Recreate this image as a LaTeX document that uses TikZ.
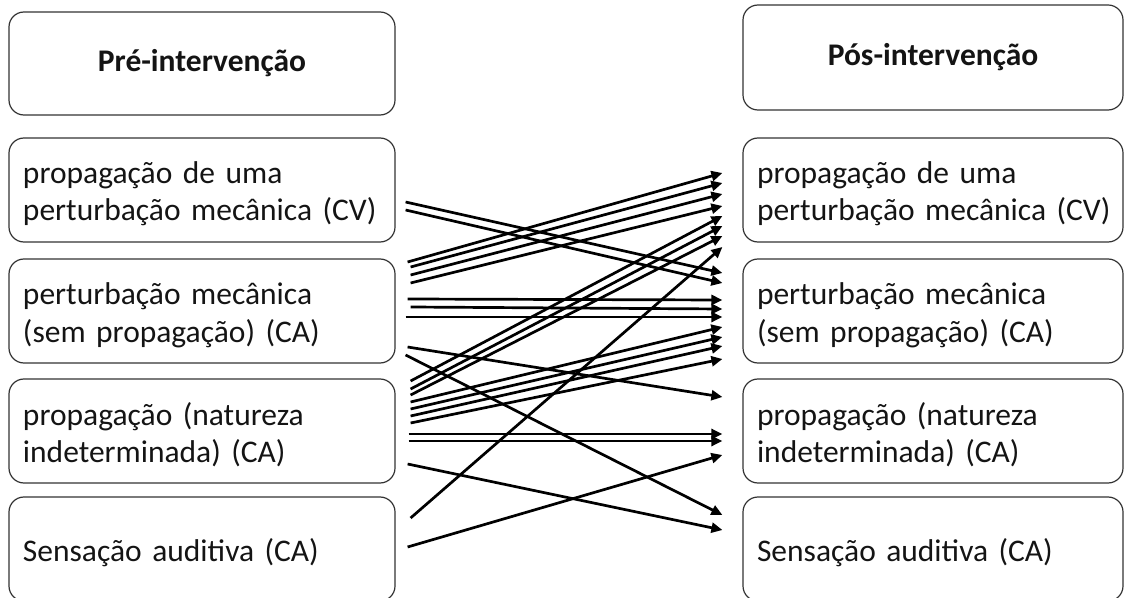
\documentclass[tikz,border=0pt]{standalone}
\usepackage{fontspec}
\setmainfont{Carlito}
\usetikzlibrary{arrows.meta,calc}
% struts that fix the height of the first line and the depth of the last one
\newcommand\topfix{\rule{0pt}{33bp}}
\newcommand\botfix{\rule[-8bp]{0pt}{8bp}}
\newcommand\headfix{\rule[-8bp]{0pt}{33bp}}
\begin{document}
\begin{tikzpicture}[x=1bp,y=-1bp,
  box/.style={draw=black!80, line width=1.2bp, rounded corners=15bp,
    inner xsep=14bp, inner ysep=0pt, text=black!92,
    font=\fontsize{31.5bp}{37bp}\selectfont},
  leftbox/.style={box, text width=358bp, align=left, minimum height=104bp},
  rightbox/.style={box, text width=352bp, align=left, minimum height=104bp},
  headbox/.style={box, align=center, font=\fontsize{31.5bp}{37bp}\selectfont\bfseries},
  conn/.style={line width=2.7bp, -{Triangle[length=11bp,width=10bp]}}
]
\useasboundingbox (0,0) rectangle (1125,598);

% column headings
\node[headbox, minimum width=386bp, minimum height=103bp] (L0) at (202,63.5) {\headfix Pré-intervenção};
\node[headbox, minimum width=380bp, minimum height=105bp] (R0) at (933,57.5) {\headfix Pós-intervenção};

% categories before the intervention
\node[leftbox] (L1) at (202,190) {\topfix propagação de uma\\perturbação mecânica (CV)\botfix};
\node[leftbox] (L2) at (202,311) {\topfix perturbação mecânica\\(sem propagação) (CA)\botfix};
\node[leftbox] (L3) at (202,431) {\topfix propagação (natureza\\indeterminada) (CA)\botfix};
\node[leftbox] (L4) at (202,549) {\topfix Sensação auditiva (CA)\botfix};

% categories after the intervention
\node[rightbox] (R1) at (933,190) {\topfix\mbox{propagação de uma}\\\mbox{perturbação mecânica (CV)}\botfix};
\node[rightbox] (R2) at (933,311) {\topfix\mbox{perturbação mecânica}\\\mbox{(sem propagação) (CA)}\botfix};
\node[rightbox] (R3) at (933,431) {\topfix\mbox{propagação (natureza}\\\mbox{indeterminada) (CA)}\botfix};
\node[rightbox] (R4) at (933,549) {\topfix\mbox{Sensação auditiva (CA)}\botfix};

% transitions from the first category
\draw[conn] ($(L1.east)+(10,12)$) -- ($(R2.west)+(-20,-38)$);
\draw[conn] ($(L1.east)+(10,20)$) -- ($(R2.west)+(-20,-28)$);

% transitions from the second category
\draw[conn] ($(L2.east)+(12,-49)$) -- ($(R1.west)+(-20,-17)$);
\draw[conn] ($(L2.east)+(15,-44)$) -- ($(R1.west)+(-20,-7)$);
\draw[conn] ($(L2.east)+(15,-36)$) -- ($(R1.west)+(-20,4)$);
\draw[conn] ($(L2.east)+(15,-28)$) -- ($(R1.west)+(-20,16)$);
\draw[conn] ($(L2.east)+(12,-12)$) -- ($(R2.west)+(-20,-11)$);
\draw[conn] ($(L2.east)+(15,-4)$) -- ($(R2.west)+(-20,-2)$);
\draw[conn] ($(L2.east)+(10,6)$) -- ($(R2.west)+(-20,6)$);
\draw[conn] ($(L2.east)+(12,36)$) -- ($(R3.west)+(-20,-34)$);
\draw[conn] ($(L2.east)+(10,44)$) -- ($(R4.west)+(-20,-34)$);

% transitions from the third category
\draw[conn] ($(L3.east)+(15,-50)$) -- ($(R1.west)+(-20,26)$);
\draw[conn] ($(L3.east)+(15,-42)$) -- ($(R1.west)+(-20,36)$);
\draw[conn] ($(L3.east)+(15,-36)$) -- ($(R1.west)+(-20,46)$);
\draw[conn] ($(L3.east)+(15,-29)$) -- ($(R2.west)+(-20,16)$);
\draw[conn] ($(L3.east)+(15,-22)$) -- ($(R2.west)+(-20,26)$);
\draw[conn] ($(L3.east)+(15,-15)$) -- ($(R2.west)+(-20,35)$);
\draw[conn] ($(L3.east)+(15,-8)$) -- ($(R2.west)+(-20,48)$);
\draw[conn] ($(L3.east)+(13,3)$) -- ($(R3.west)+(-20,3)$);
\draw[conn] ($(L3.east)+(13,10)$) -- ($(R3.west)+(-20,10)$);
\draw[conn] ($(L3.east)+(12,33)$) -- ($(R4.west)+(-20,-19)$);

% transitions from the fourth category
\draw[conn] ($(L4.east)+(15,-31)$) -- ($(R1.west)+(-20,57)$);
\draw[conn] ($(L4.east)+(12,-2)$) -- ($(R3.west)+(-20,24)$);
\end{tikzpicture}
\end{document}
